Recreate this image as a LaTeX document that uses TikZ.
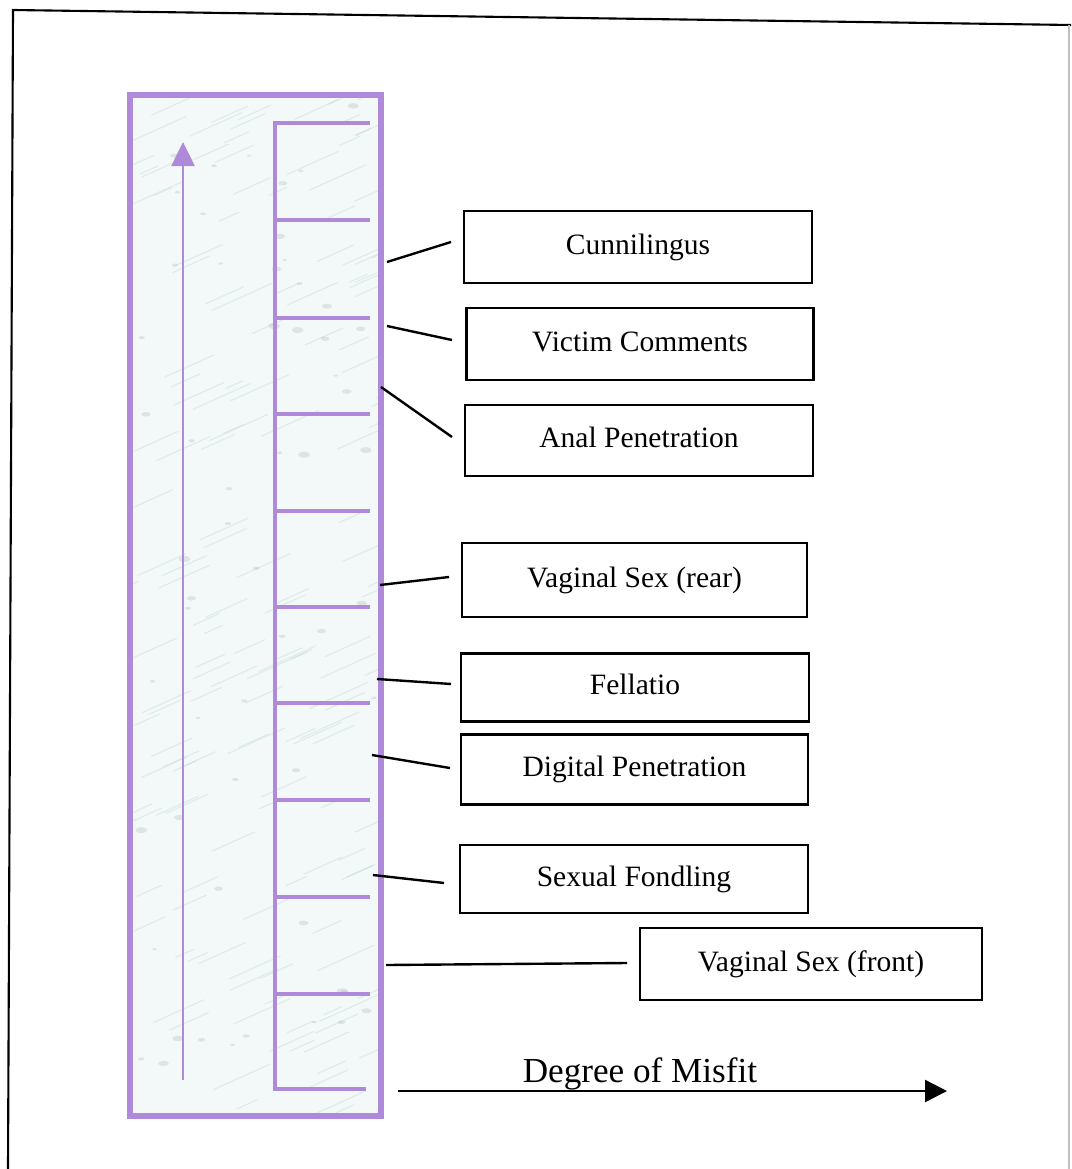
\documentclass[tikz,border=0pt]{standalone}
\usepackage{fontspec}
\setmainfont{Liberation Serif}
\usetikzlibrary{arrows.meta}
\definecolor{lav}{RGB}{176,138,218}
\definecolor{marble}{RGB}{243,249,248}
\definecolor{vein}{RGB}{140,185,175}
\newcommand\pxu{0.025cm}

\begin{document}
\begin{tikzpicture}[x=0.025cm,y=-0.025cm,
  catbox/.style={draw=black, line width=1.7pt, fill=white, inner sep=0pt,
    text height=0.35cm, text depth=0pt, font=\fontsize{21}{25}\selectfont},
  lead/.style={draw=black, line width=1.7pt},
  rung/.style={draw=lav, line width=2.8pt},
  rail/.style={draw=lav, line width=3.6pt},
]
\useasboundingbox (0,0) rectangle (1071,1169);

% page frame
\draw[black, line width=1.5pt] (8,1169) -- (13,10) -- (1071,25);
\draw[black!25, line width=1pt] (1069,25) -- (1069,1169);

% marbled column
\fill[marble] (130,95) rectangle (381,1116);
\begin{scope}
  \clip (132,97) rectangle (379,1114);
  \pgfmathsetseed{4242}
  \foreach \i in {1,...,160} {
    \pgfmathsetmacro\xa{120+rnd*260}
    \pgfmathsetmacro\ya{95+rnd*1030}
    \pgfmathsetmacro\len{15+rnd*45}
    \draw[vein, opacity=0.2, line width=0.8pt, line cap=round]
      (\xa,\ya) -- ++(\len,-0.45*\len);
  }
  \foreach \i in {1,...,60} {
    \pgfmathsetmacro\xa{135+rnd*240}
    \pgfmathsetmacro\ya{100+rnd*1010}
    \pgfmathsetmacro\ra{2+rnd*4}
    \fill[vein!60!black, opacity=0.14] (\xa,\ya) ellipse ({\ra} and {0.5*\ra});
  }
\end{scope}
\draw[rail] (130,95) rectangle (381,1116);

% scale inside the column
\draw[rung] (370,123) -- (275,123) -- (275,1089) -- (366,1089);
\foreach \y in {220,318,414,511,607,703,800,897,994}
  \draw[rung] (275,\y) -- (370,\y);

% upward arrow
\coordinate (upStart) at (183,1080);
\coordinate (upEnd) at (183,142);
\draw[lav, line width=1.3pt, -{Triangle[length=0.6cm,width=0.58cm]}] (upStart) -- (upEnd);

% category boxes
\node[catbox, minimum width=348*\pxu, minimum height=72*\pxu] (cun) at (638,247) {Cunnilingus};
\node[catbox, minimum width=347*\pxu, minimum height=72*\pxu] (vic) at (640,344) {Victim Comments};
\node[catbox, minimum width=348*\pxu, minimum height=71*\pxu] (anal) at (639,440.5) {Anal Penetration};
\node[catbox, minimum width=345*\pxu, minimum height=74*\pxu] (rear) at (634.5,580) {Vaginal Sex (rear)};
\node[catbox, minimum width=348*\pxu, minimum height=68*\pxu] (fell) at (635,687.5) {Fellatio};
\node[catbox, minimum width=347*\pxu, minimum height=70*\pxu] (digi) at (634.5,769.5) {Digital Penetration};
\node[catbox, minimum width=348*\pxu, minimum height=68*\pxu] (fond) at (634,879) {Sexual Fondling};
\node[catbox, minimum width=342*\pxu, minimum height=72*\pxu] (front) at (811,964) {Vaginal Sex (front)};

% leader lines
\foreach \n/\ax/\ay/\bx/\by in {
    cun/387/262/451/242, vic/387/326/452/340, anal/381/387/452/437,
    rear/380/585/449/577, fell/377/679/451/684, digi/372/755/450/768,
    fond/373/875/444/883, front/386/965/627/963} {
  \coordinate (\n-a) at (\ax,\ay);
  \coordinate (\n-b) at (\bx,\by);
  \draw[lead] (\n-a) -- (\n-b);
}

% horizontal axis
\coordinate (misfitStart) at (398,1091);
\coordinate (misfitEnd) at (947,1091);
\draw[black, line width=1.7pt, -{Triangle[length=0.55cm,width=0.55cm]}] (misfitStart) -- (misfitEnd);
\node[font=\fontsize{25}{30}\selectfont, anchor=base, inner sep=0pt] (misfit) at (640,1082) {Degree of Misfit};
\end{tikzpicture}
\end{document}
